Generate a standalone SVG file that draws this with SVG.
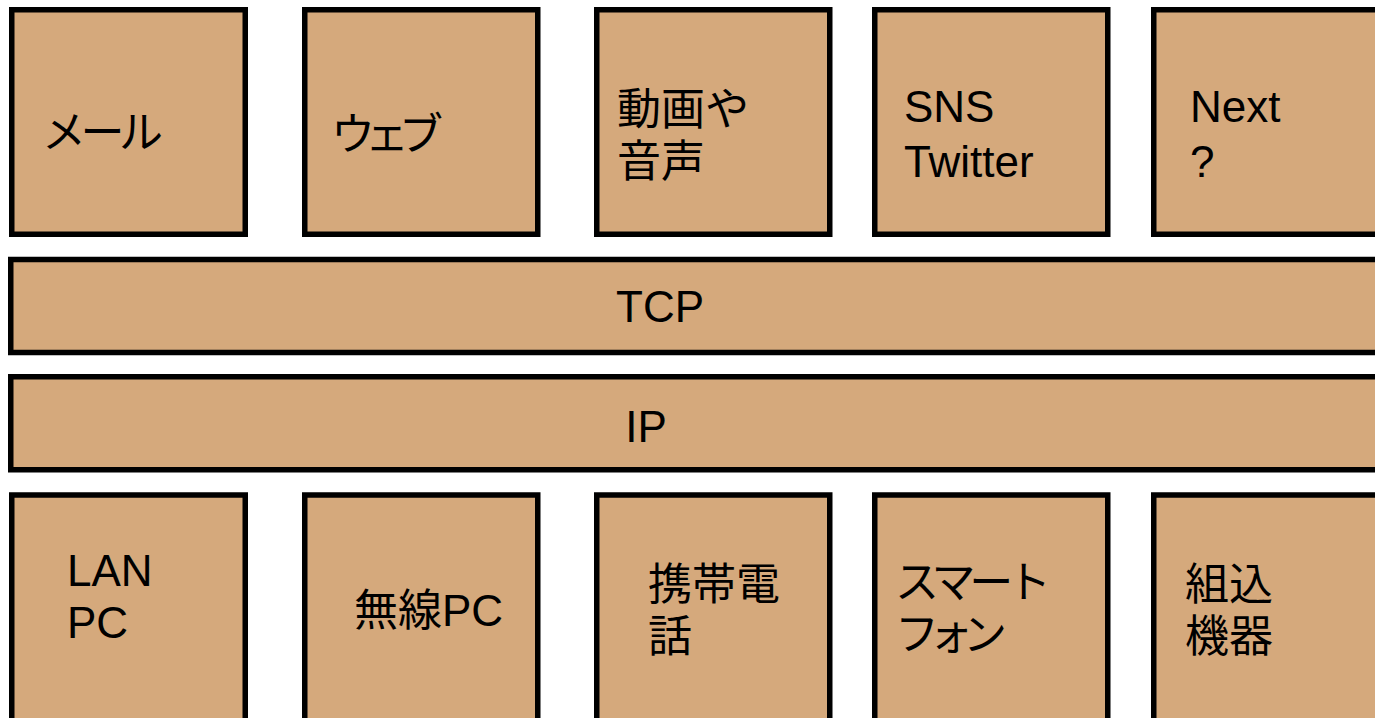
<svg xmlns="http://www.w3.org/2000/svg" width="1375" height="718" viewBox="0 0 1375 718">
  <defs>
    <style>
      .box { fill: #D5A97C; stroke: #000; stroke-width: 5.5; }
      .lbl { font-family: "Liberation Sans", "Noto Sans CJK JP", sans-serif; font-size: 44px; fill: #000; }
    </style>
  </defs>
  <rect width="1375" height="718" fill="#fff"/>
  <g id="connectors"></g>
  <g id="mail"><rect class="box" x="11.75" y="9.75" width="233.5" height="224.5"/><text class="lbl" x="42" y="148" textLength="121" lengthAdjust="spacing">メール</text></g>
  <g id="web"><rect class="box" x="304.75" y="9.75" width="233" height="224.5"/><text class="lbl" x="331" y="150" textLength="112" lengthAdjust="spacing">ウェブ</text></g>
  <g id="video"><rect class="box" x="596.75" y="9.75" width="233" height="224.5"/><text class="lbl" x="617" y="125">動画や</text><text class="lbl" x="617" y="177">音声</text></g>
  <g id="sns"><rect class="box" x="874.75" y="9.75" width="233" height="224.5"/><text class="lbl" x="904" y="122">SNS</text><text class="lbl" x="904" y="177">Twitter</text></g>
  <g id="next"><rect class="box" x="1153.75" y="9.75" width="240" height="224.5"/><text class="lbl" x="1190" y="122">Next</text><text class="lbl" x="1190" y="177">?</text></g>
  <g id="tcp"><rect class="box" x="10.75" y="259.5" width="1380" height="93"/><text class="lbl" x="660" y="322" text-anchor="middle">TCP</text></g>
  <g id="ip"><rect class="box" x="10.75" y="376.75" width="1380" height="93"/><text class="lbl" x="646" y="442" text-anchor="middle">IP</text></g>
  <g id="lanpc"><rect class="box" x="11.75" y="495" width="233.5" height="240"/><text class="lbl" x="67" y="586">LAN</text><text class="lbl" x="67" y="638">PC</text></g>
  <g id="wirelesspc"><rect class="box" x="304.75" y="495" width="233" height="240"/><text class="lbl" x="354" y="626">無線PC</text></g>
  <g id="mobile"><rect class="box" x="596.75" y="495" width="233" height="240"/><text class="lbl" x="648" y="600">携帯電</text><text class="lbl" x="648" y="652">話</text></g>
  <g id="smartphone"><rect class="box" x="874.75" y="495" width="233" height="240"/><text class="lbl" x="895" y="598" textLength="156" lengthAdjust="spacing">スマート</text><text class="lbl" x="895" y="650" textLength="112" lengthAdjust="spacing">フォン</text></g>
  <g id="embedded"><rect class="box" x="1153.75" y="495" width="240" height="240"/><text class="lbl" x="1185" y="600">組込</text><text class="lbl" x="1185" y="652">機器</text></g>
</svg>
